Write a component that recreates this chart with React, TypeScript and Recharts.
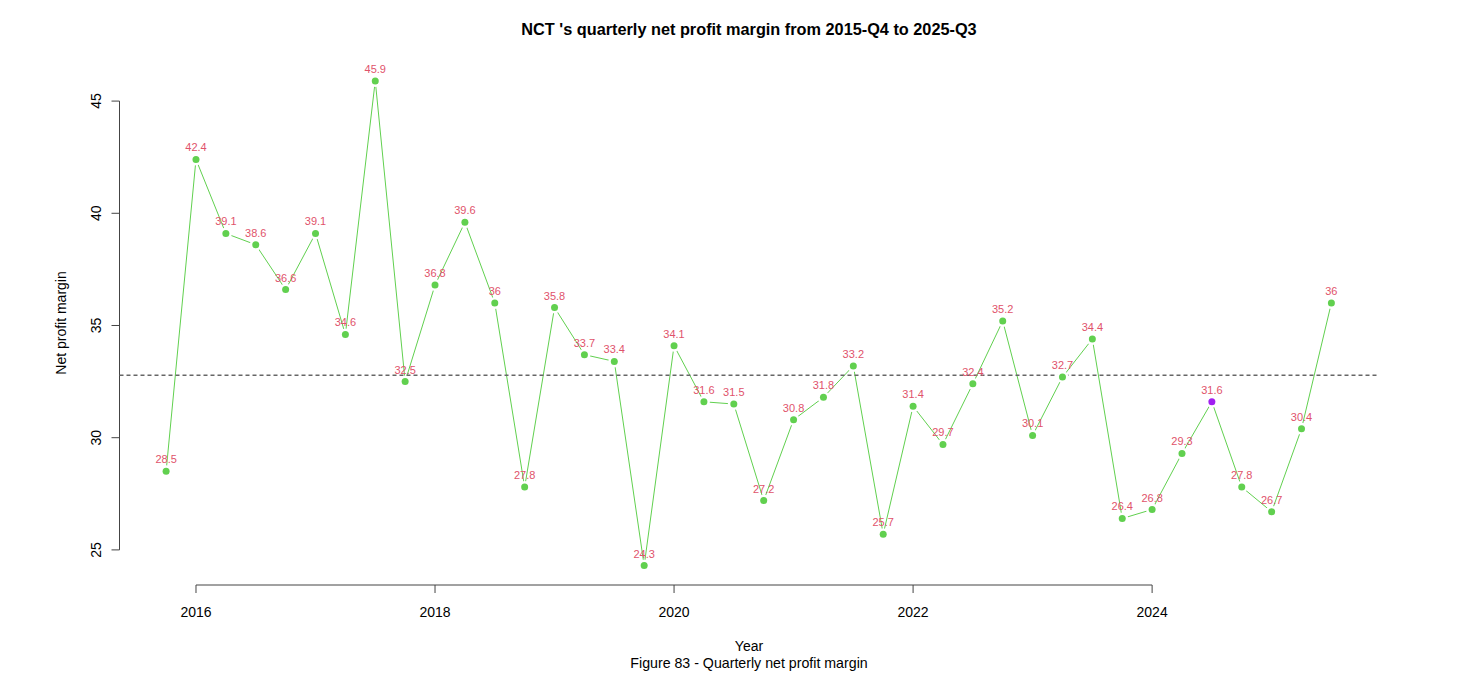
import React from 'react';
import { LineChart, Line, XAxis, YAxis, ReferenceLine } from 'recharts';

// Quarterly net profit margin, NCT
const QUARTERS = [
  '2015-Q4',
  '2016-Q1', '2016-Q2', '2016-Q3', '2016-Q4',
  '2017-Q1', '2017-Q2', '2017-Q3', '2017-Q4',
  '2018-Q1', '2018-Q2', '2018-Q3', '2018-Q4',
  '2019-Q1', '2019-Q2', '2019-Q3', '2019-Q4',
  '2020-Q1', '2020-Q2', '2020-Q3', '2020-Q4',
  '2021-Q1', '2021-Q2', '2021-Q3', '2021-Q4',
  '2022-Q1', '2022-Q2', '2022-Q3', '2022-Q4',
  '2023-Q1', '2023-Q2', '2023-Q3', '2023-Q4',
  '2024-Q1', '2024-Q2', '2024-Q3', '2024-Q4',
  '2025-Q1', '2025-Q2', '2025-Q3',
];
const MARGINS = [
  28.5,
  42.4, 39.1, 38.6, 36.6,
  39.1, 34.6, 45.9, 32.5,
  36.8, 39.6, 36, 27.8,
  35.8, 33.7, 33.4, 24.3,
  34.1, 31.6, 31.5, 27.2,
  30.8, 31.8, 33.2, 25.7,
  31.4, 29.7, 32.4, 35.2,
  30.1, 32.7, 34.4, 26.4,
  26.8, 29.3, 31.6, 27.8,
  26.7, 30.4, 36,
];
const HIGHLIGHT = '2024-Q3';
const X_TICKS = [2016, 2018, 2020, 2022, 2024];
const Y_TICKS = [25, 30, 35, 40, 45];

const GREEN = '#61D04F';
const RED = '#DF536B';
const PURPLE = '#A020F0';
const AXIS = '#444';
const FONT = '"Liberation Sans", Arial, sans-serif';

const W = 1475;
const H = 690;

const toYear = (q: string) => {
  const [y, qq] = q.split('-Q');
  return Number(y) + (Number(qq) - 1) / 4;
};

const data = QUARTERS.map((q, i) => ({ q, t: toYear(q), v: MARGINS[i] }));
const mean = MARGINS.reduce((a, b) => a + b, 0) / MARGINS.length;

// R-style 4% axis extension
const tMin = data[0].t, tMax = data[data.length - 1].t;
const vMin = Math.min(...MARGINS), vMax = Math.max(...MARGINS);
const xDomain = [tMin - 0.04 * (tMax - tMin), tMax + 0.04 * (tMax - tMin)];
const yDomain = [vMin - 0.04 * (vMax - vMin), vMax + 0.04 * (vMax - vMin)];

const renderDot = (props: any) => {
  const { cx, cy, payload, index } = props;
  const fill = payload.q === HIGHLIGHT ? PURPLE : GREEN;
  return (
    <g key={`dot-${index}`}>
      <circle cx={cx} cy={cy} r={6} fill="#fff" />
      <circle cx={cx} cy={cy} r={3.5} fill={fill} />
    </g>
  );
};

const renderLabel = (props: any) => {
  const { x, y, value, index } = props;
  return (
    <text key={`lbl-${index}`} x={x} y={y - 8} textAnchor="middle" fill={RED} fontSize={11} fontFamily={FONT}>
      {value}
    </text>
  );
};

const XTick = (props: any) => {
  const { x, payload } = props;
  return (
    <text x={x} y={617} textAnchor="middle" fill="#000" fontSize={14} fontFamily={FONT}>
      {payload.value}
    </text>
  );
};

const YTick = (props: any) => {
  const { y, payload } = props;
  return (
    <text transform={`translate(100.5,${y}) rotate(-90)`} textAnchor="middle" fill="#000" fontSize={14} fontFamily={FONT}>
      {payload.value}
    </text>
  );
};

export default function App() {
  return (
    <div style={{ position: 'absolute', left: 0, top: 0, width: W, height: H, background: '#fff', fontFamily: FONT }}>
      <LineChart width={W} height={H} data={data} margin={{ top: 61.5, right: 97, bottom: 75, left: 59.5 }}>
        <XAxis
          dataKey="t"
          type="number"
          domain={xDomain}
          allowDataOverflow
          ticks={X_TICKS}
          interval={0}
          height={30}
          axisLine={false}
          tickSize={8}
          tickLine={{ stroke: AXIS }}
          tick={<XTick />}
        />
        <YAxis
          type="number"
          domain={yDomain}
          allowDataOverflow
          ticks={Y_TICKS}
          interval={0}
          width={60}
          axisLine={false}
          tickSize={8}
          tickLine={{ stroke: AXIS }}
          tick={<YTick />}
        />
        <ReferenceLine
          segment={[{ x: X_TICKS[0], y: yDomain[0] }, { x: X_TICKS[X_TICKS.length - 1], y: yDomain[0] }]}
          stroke={AXIS}
          ifOverflow="visible"
        />
        <ReferenceLine
          segment={[{ x: xDomain[0], y: Y_TICKS[0] }, { x: xDomain[0], y: Y_TICKS[Y_TICKS.length - 1] }]}
          stroke={AXIS}
          ifOverflow="visible"
        />
        <Line
          dataKey="v"
          type="linear"
          stroke={GREEN}
          strokeWidth={1}
          dot={renderDot}
          activeDot={false}
          label={renderLabel}
          isAnimationActive={false}
        />
        <ReferenceLine y={mean} stroke="#666" strokeWidth={1.5} strokeDasharray="4 3" />
      </LineChart>
      <svg width={W} height={H} style={{ position: 'absolute', left: 0, top: 0, pointerEvents: 'none' }}>
        <text x={749} y={35} textAnchor="middle" fontSize={16.3} fontWeight="bold" fontFamily={FONT} fill="#000">
          NCT 's quarterly net profit margin from 2015-Q4 to 2025-Q3
        </text>
        <text x={749} y={651} textAnchor="middle" fontSize={14} fontFamily={FONT} fill="#000">
          Year
        </text>
        <text x={749} y={668} textAnchor="middle" fontSize={14.2} fontFamily={FONT} fill="#000">
          Figure 83 - Quarterly net profit margin
        </text>
        <text transform="translate(66,323) rotate(-90)" textAnchor="middle" fontSize={14} fontFamily={FONT} fill="#000">
          Net profit margin
        </text>
      </svg>
    </div>
  );
}
